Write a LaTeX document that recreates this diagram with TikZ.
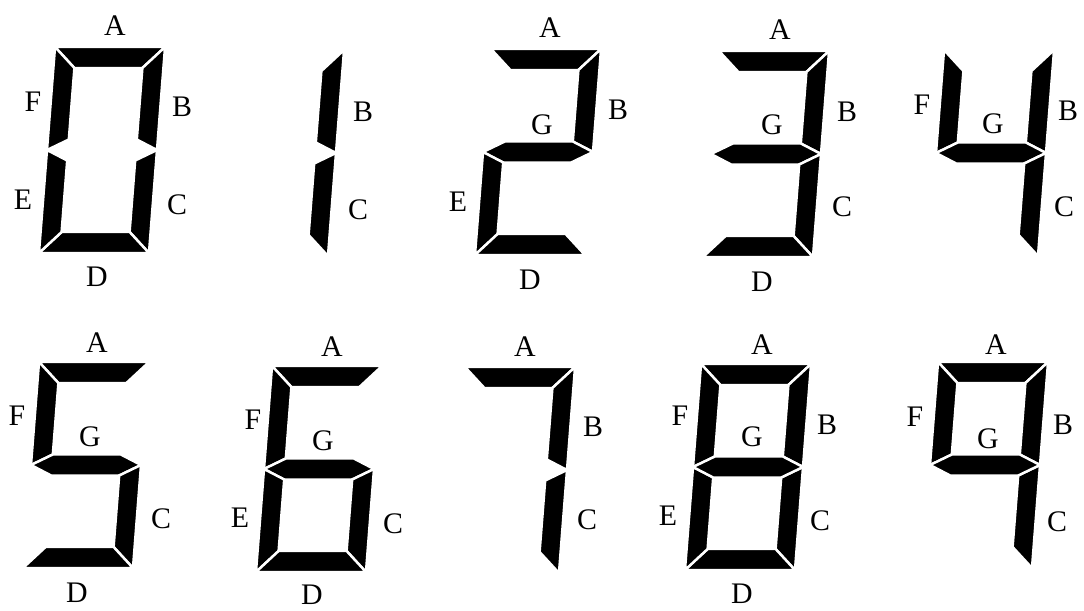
\documentclass[tikz,border=0pt]{standalone}
\usepackage{fontspec}
\setmainfont{Liberation Serif}
\usetikzlibrary{positioning}
\definecolor{segblack}{HTML}{000000}

\tikzset{
  seg/.style={fill=segblack,draw=white,line width=1.4pt,line join=miter},
  lbl/.style={font=\fontsize{17}{17}\selectfont,inner sep=0pt},
  segA/.pic={\path[seg] (-55,-103) -- (55,-103) -- (34,-82) -- (-34,-82) -- cycle;},
  segB/.pic={\path[seg] (55,-103) -- (55,0) -- (34,-10.5) -- (34,-82) -- cycle;},
  segC/.pic={\path[seg] (55,0) -- (55,103) -- (34,82) -- (34,10.5) -- cycle;},
  segD/.pic={\path[seg] (-55,103) -- (-34,82) -- (34,82) -- (55,103) -- cycle;},
  segE/.pic={\path[seg] (-55,0) -- (-34,10.5) -- (-34,82) -- (-55,103) -- cycle;},
  segF/.pic={\path[seg] (-55,-103) -- (-34,-82) -- (-34,-10.5) -- (-55,0) -- cycle;},
  segG/.pic={\path[seg] (-55,0) -- (-34,-10.5) -- (34,-10.5) -- (55,0) -- (34,10.5) -- (-34,10.5) -- cycle;},
}

% one digit: centre x, centre y, lit segments
\newcommand{\leddigit}[3]{%
  \begin{scope}[shift={(#1,#2)},xslant=0.078]
    \foreach \s in {#3} {\pic[transform shape] {seg\s};}
  \end{scope}}

\begin{document}
\begin{tikzpicture}[x=0.02cm,y=-0.02cm]
  \useasboundingbox[fill=white] (0,0) rectangle (1084,611);

  % top row: 0 1 2 3 4
  \leddigit{102}{150}{A,B,C,D,E,F}
  \leddigit{281}{153}{B,C}
  \leddigit{538}{152}{A,B,G,E,D}
  \leddigit{766}{154}{A,B,G,C,D}
  \leddigit{991}{153}{F,B,G,C}

  % bottom row: 5 6 7 8 9
  \leddigit{86}{465}{A,F,G,C,D}
  \leddigit{319}{469}{A,F,G,E,C,D}
  \leddigit{512}{470}{A,B,C}
  \leddigit{748}{467}{A,B,C,D,E,F,G}
  \leddigit{985}{465}{A,B,C,F,G}

  % labels, digit 0
  \node[lbl] (zA) at (115,26) {A};
  \node[lbl] (zF) at (33,102) {F};
  \node[lbl] (zB) at (182,107) {B};
  \node[lbl] (zE) at (23,200) {E};
  \node[lbl] (zC) at (177,205) {C};
  \node[lbl] (zD) at (97,277) {D};
  % digit 1
  \node[lbl] (oB) at (363,112) {B};
  \node[lbl] (oC) at (358,210) {C};
  % digit 2
  \node[lbl] (twA) at (550,28) {A};
  \node[lbl] (twG) at (542,125) {G};
  \node[lbl] (twB) at (618,110) {B};
  \node[lbl] (twE) at (458,202) {E};
  \node[lbl] (twD) at (530,280) {D};
  % digit 3
  \node[lbl] (thA) at (780,30) {A};
  \node[lbl] (thG) at (772,125) {G};
  \node[lbl] (thB) at (847,112) {B};
  \node[lbl] (thC) at (842,207) {C};
  \node[lbl] (thD) at (762,282) {D};
  % digit 4
  \node[lbl] (foF) at (922,105) {F};
  \node[lbl] (foG) at (993,124) {G};
  \node[lbl] (foB) at (1068,111) {B};
  \node[lbl] (foC) at (1064,207) {C};
  % digit 5
  \node[lbl] (fiA) at (97,343) {A};
  \node[lbl] (fiF) at (17,416) {F};
  \node[lbl] (fiG) at (90,437) {G};
  \node[lbl] (fiC) at (161,519) {C};
  \node[lbl] (fiD) at (77,593) {D};
  % digit 6
  \node[lbl] (siA) at (332,347) {A};
  \node[lbl] (siF) at (253,420) {F};
  \node[lbl] (siG) at (323,441) {G};
  \node[lbl] (siE) at (240,518) {E};
  \node[lbl] (siC) at (393,524) {C};
  \node[lbl] (siD) at (312,595) {D};
  % digit 7
  \node[lbl] (seA) at (525,347) {A};
  \node[lbl] (seB) at (593,427) {B};
  \node[lbl] (seC) at (587,520) {C};
  % digit 8
  \node[lbl] (eiA) at (762,345) {A};
  \node[lbl] (eiF) at (680,416) {F};
  \node[lbl] (eiG) at (752,437) {G};
  \node[lbl] (eiB) at (827,425) {B};
  \node[lbl] (eiE) at (668,516) {E};
  \node[lbl] (eiC) at (820,521) {C};
  \node[lbl] (eiD) at (742,594) {D};
  % digit 9
  \node[lbl] (niA) at (996,345) {A};
  \node[lbl] (niF) at (915,417) {F};
  \node[lbl] (niG) at (988,439) {G};
  \node[lbl] (niB) at (1063,425) {B};
  \node[lbl] (niC) at (1057,522) {C};
\end{tikzpicture}
\end{document}
